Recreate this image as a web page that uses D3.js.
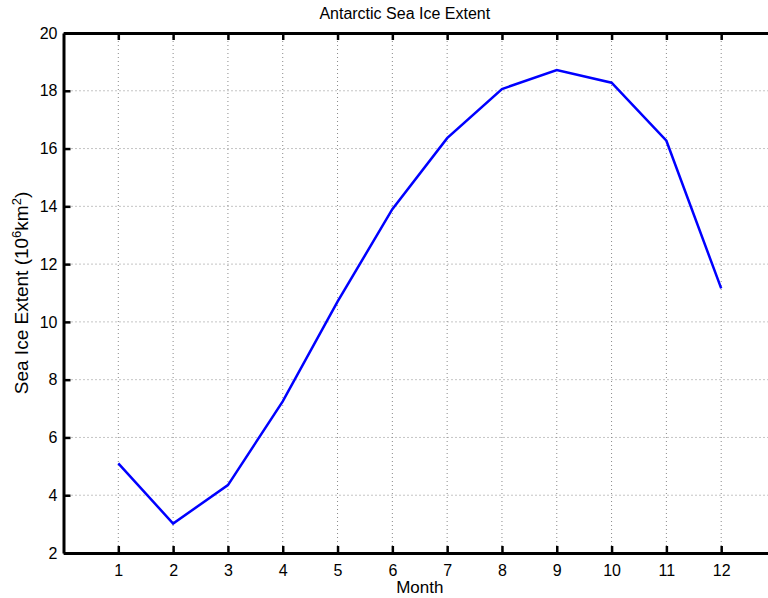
<!DOCTYPE html>
<html><head><meta charset="utf-8">
<script src="https://cdn.jsdelivr.net/npm/d3@7"></script>
<style>body{margin:0;background:#fff;} svg{display:block;font-family:"Liberation Sans",Arial,Helvetica,sans-serif;}</style>
</head><body>
<svg id="c" width="768" height="598"></svg>
<script>
const months = [1,2,3,4,5,6,7,8,9,10,11,12];
const extent = [5.10,3.02,4.35,7.25,10.70,13.90,16.36,18.06,18.72,18.28,16.27,11.16];
const xTicks = [1,2,3,4,5,6,7,8,9,10,11,12];
const yTicks = [2,4,6,8,10,12,14,16,18,20];
const titleText = "Antarctic Sea Ice Extent";
const xLabel = "Month";

const svg = d3.select("#c");
const L = 63.5, R = 776, T = 33, B = 553;
const x = d3.scaleLinear().domain([0,13]).range([L,R]);
const y = d3.scaleLinear().domain([2,20]).range([B,T]);
const FONT = "'Liberation Sans',Arial,sans-serif";

// grid
const g = svg.append("g");
g.selectAll(".gx").data(xTicks).join("line")
  .attr("x1",d=>x(d)).attr("x2",d=>x(d)).attr("y1",T).attr("y2",B)
  .attr("stroke","#8a8a8a").attr("stroke-width",1).attr("stroke-dasharray","1,3");
g.selectAll(".gy").data(yTicks.filter(v=>v>2&&v<20)).join("line")
  .attr("x1",L).attr("x2",R).attr("y1",d=>y(d)).attr("y2",d=>y(d))
  .attr("stroke","#8a8a8a").attr("stroke-width",1).attr("stroke-dasharray","1,3");

// line
const line = d3.line().x((d,i)=>x(months[i])).y(d=>y(d));
svg.append("path").datum(extent).attr("d",line)
  .attr("fill","none").attr("stroke","#0000ff").attr("stroke-width",2.5).attr("stroke-linejoin","miter");

// axes (inward ticks)
const xa = svg.append("g").attr("transform",`translate(0,${B})`)
  .call(d3.axisBottom(x).tickValues(xTicks).tickSizeInner(-7).tickSizeOuter(0).tickPadding(12));
const xt = svg.append("g").attr("transform",`translate(0,${T})`)
  .call(d3.axisTop(x).tickValues(xTicks).tickSizeInner(-7).tickSizeOuter(0).tickFormat(""));
const ya = svg.append("g").attr("transform",`translate(${L},0)`)
  .call(d3.axisLeft(y).tickValues(yTicks).tickSizeInner(-7).tickSizeOuter(0).tickPadding(6));
[xa,xt,ya].forEach(a=>{
  a.attr("font-size",null).attr("font-family",null);
  a.select(".domain").attr("stroke","#000").attr("stroke-width",3);
  a.selectAll(".tick line").attr("stroke","#000").attr("stroke-width",2.5);
  a.selectAll("text").attr("fill","#000").style("font-size","16px").style("font-family",FONT);
});
xa.selectAll("text").attr("dy","0.71em");

// title & labels
svg.append("text").attr("x",(L+R)/2 - 15).attr("y",19).attr("text-anchor","middle")
  .style("font-size","16px").text(titleText);
svg.append("text").attr("x",(L+R)/2).attr("y",593).attr("text-anchor","middle")
  .style("font-size","17px").text(xLabel);
const yl = svg.append("text").attr("transform",`translate(28,${(T+B)/2}) rotate(-90)`)
  .attr("text-anchor","middle").style("font-size","19px");
yl.append("tspan").text("Sea Ice Extent (10");
yl.append("tspan").attr("dy","-7").style("font-size","13px").text("6");
yl.append("tspan").attr("dy","7").text("km");
yl.append("tspan").attr("dy","-7").style("font-size","13px").text("2");
yl.append("tspan").attr("dy","7").text(")");
</script>
</body></html>
